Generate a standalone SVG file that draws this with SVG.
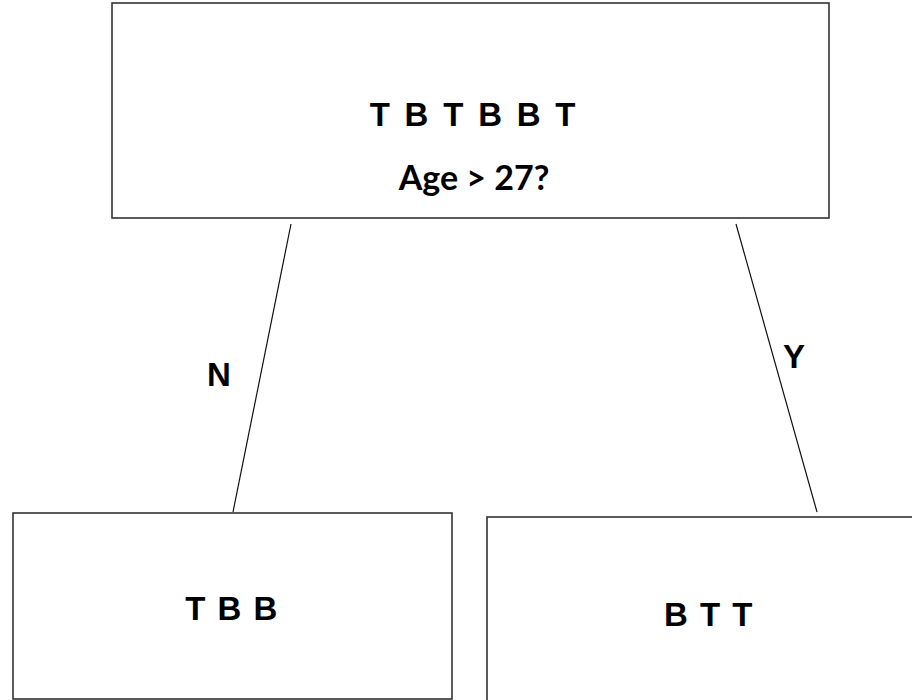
<svg xmlns="http://www.w3.org/2000/svg" width="912" height="700" viewBox="0 0 912 700">
<style>
.box{fill:#fff;stroke:#333;stroke-width:1.6}
.edge{stroke:#111;stroke-width:1.2;fill:none}
.t{font-family:"Liberation Sans",Arial,sans-serif;font-weight:bold;font-size:33px;fill:#000;text-anchor:middle}
.q{font-family:Lato,"Liberation Sans",sans-serif;font-weight:bold;font-size:34px;fill:#000;text-anchor:middle}
.seq{letter-spacing:1.5px}
.wide{letter-spacing:2.8px}
</style>
<rect width="912" height="700" fill="#fff"/>
<g id="connectors">
<line class="edge" x1="291" y1="224" x2="233" y2="512"/>
<line class="edge" x1="736" y1="224" x2="817" y2="512"/>
<text class="t" x="219" y="386">N</text>
<text class="t" x="794" y="368">Y</text>
</g>
<g id="root">
<rect class="box" x="112" y="3" width="717" height="215"/>
<text class="t wide" x="474" y="126" xml:space="preserve">T B T B B T</text>
<text class="q" x="474" y="190">Age &gt; 27?</text>
</g>
<g id="left">
<rect class="box" x="13" y="513" width="439" height="186"/>
<text class="t seq" x="232" y="620" xml:space="preserve">T B B</text>
</g>
<g id="right">
<rect class="box" x="487" y="517" width="440" height="200"/>
<text class="t seq" x="709" y="626" xml:space="preserve">B T T</text>
</g>
</svg>
